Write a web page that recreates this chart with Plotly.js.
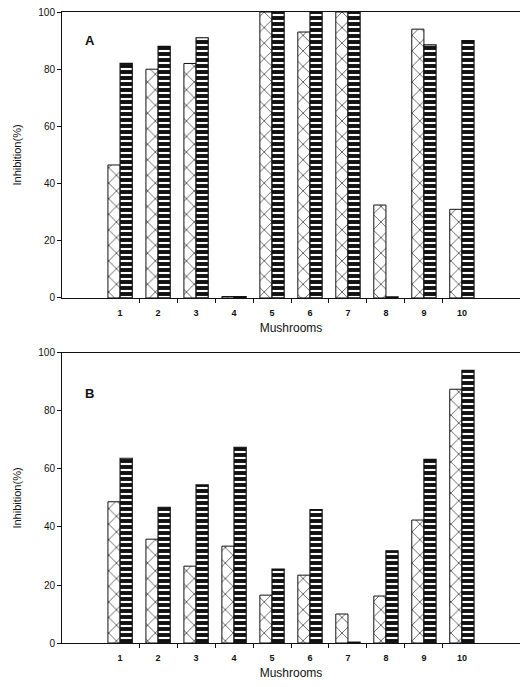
<!DOCTYPE html>
<html><head><meta charset="utf-8">
<script src="https://cdn.plot.ly/plotly-3.0.1.min.js"></script>
<style>html,body{margin:0;padding:0;background:#fff}#chart{width:525px;height:687px}</style>
</head><body><div id="chart"></div>
<script>
const mushrooms = [1,2,3,4,5,6,7,8,9,10];
const tickLabels = ['1','2','3','4','5','6','7','8','9','10'];
const yTicks = [0,20,40,60,80,100];
// Panel A
const aCross = [46.5, 80, 82, 0.5, 100, 93, 100, 32.5, 94, 31];
const aBlack = [82, 88, 91, 0.5, 100, 100, 100, 0.4, 88.5, 90];
// Panel B
const bCross = [48.7, 35.8, 26.5, 33.4, 16.5, 23.4, 10, 16.2, 42.4, 87.5];
const bBlack = [63.7, 46.8, 54.5, 67.5, 25.5, 46, 0.3, 31.8, 63.3, 94];

const crossMarker = {color:'#fff', line:{color:'#111', width:1},
  pattern:{shape:'x', fgcolor:'#222', bgcolor:'#fff', size:11, solidity:0.12}};
const blackMarker = {color:'#111', line:{color:'#111', width:1.2},
  pattern:{shape:'-', fgcolor:'#fff', bgcolor:'#111', size:6, solidity:0.35, fillmode:'replace'}};

const traces = [
  {type:'bar', x:mushrooms, y:aCross, marker:crossMarker, xaxis:'x', yaxis:'y', showlegend:false},
  {type:'bar', x:mushrooms, y:aBlack, marker:blackMarker, xaxis:'x', yaxis:'y', showlegend:false},
  {type:'bar', x:mushrooms, y:bCross, marker:crossMarker, xaxis:'x2', yaxis:'y2', showlegend:false},
  {type:'bar', x:mushrooms, y:bBlack, marker:blackMarker, xaxis:'x2', yaxis:'y2', showlegend:false}
];

const font = {family:'Liberation Sans, Arial, sans-serif', color:'#111'};
function xa(anchor){
  return {anchor:anchor, range:[-0.53, 11.53], tickmode:'array', tickvals:mushrooms, ticktext:tickLabels,
    ticks:'', ticklabelstandoff:6, showline:true, linecolor:'#111', linewidth:1, mirror:true, showgrid:false, zeroline:false,
    tickfont:{family:font.family, size:9, color:'#111', weight:'bold'},
    minor:{tickmode:'array', tickvals:[1.5,2.5,3.5,4.5,5.5,6.5,7.5,8.5,9.5], ticks:'outside', ticklen:4, tickcolor:'#111', showgrid:false},
    title:{text:'Mushrooms', font:{family:font.family, size:12, color:'#111'}, standoff:6},
    automargin:false, fixedrange:true};
}
function ya(anchor, domain){
  return {anchor:anchor, domain:domain, range:[0,100], tickmode:'array', tickvals:yTicks,
    ticks:'outside', ticklen:4, tickcolor:'#111', showline:true, linecolor:'#111', linewidth:1,
    showgrid:false, zeroline:false, mirror:false,
    tickfont:{family:font.family, size:10, color:'#111'},
    title:{text:'Inhibition(%)', font:{family:font.family, size:11, color:'#111'}, standoff:14},
    automargin:false, fixedrange:true};
}

const layout = {
  width:525, height:687, margin:{l:62, r:5, t:12, b:44},
  paper_bgcolor:'#fff', plot_bgcolor:'#fff', font:font,
  barmode:'group', bargap:0.36, bargroupgap:0,
  xaxis: xa('y'), yaxis: ya('x', [0.5468, 1]),
  xaxis2: xa('y2'), yaxis2: ya('x2', [0, 0.4596]),
  annotations:[
    {xref:'x', yref:'y', x:0.2, y:90, text:'A', showarrow:false, font:{family:font.family, size:13, color:'#111', weight:'bold'}},
    {xref:'x2', yref:'y2', x:0.2, y:86, text:'B', showarrow:false, font:{family:font.family, size:13, color:'#111', weight:'bold'}}
  ]
};
Plotly.newPlot('chart', traces, layout, {staticPlot:true});
</script></body></html>
